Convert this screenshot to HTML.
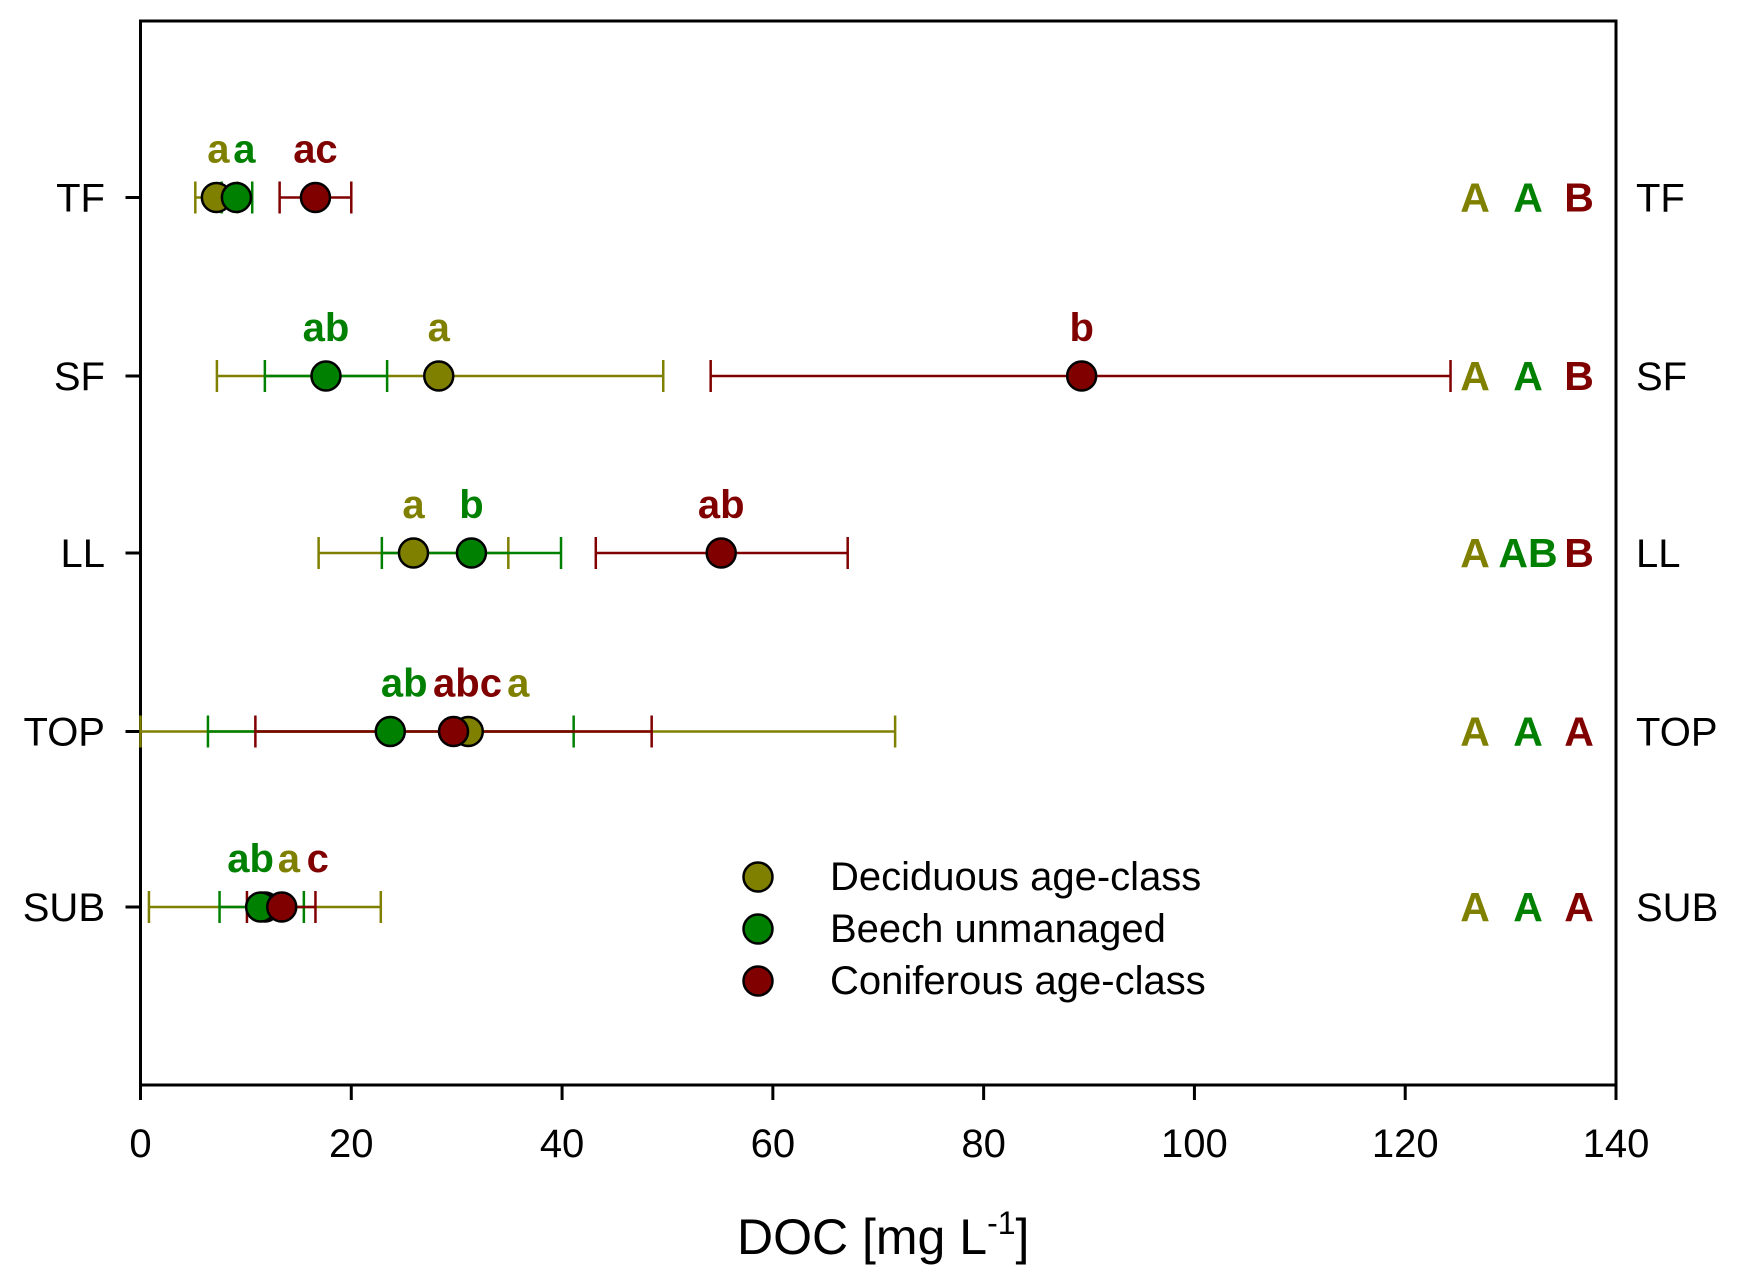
<!DOCTYPE html>
<html><head><meta charset="utf-8"><style>
html,body{margin:0;padding:0;background:#fff;}
svg{display:block;font-family:"Liberation Sans",Arial,sans-serif;}
</style></head><body>
<svg id="chart" width="1739" height="1283" viewBox="0 0 1739 1283" xmlns="http://www.w3.org/2000/svg"></svg>
<script>
const categories = ["TF","SF","LL","TOP","SUB"];
const series = ["Deciduous age-class","Beech unmanaged","Coniferous age-class"];
const decMean = [7.2, 28.3, 25.9, 31.1, 11.8];
const decLo   = [5.2, 7.25, 16.9, 0.0, 0.8];
const decHi   = [9.2, 49.6, 34.9, 71.6, 22.8];
const beechMean = [9.1, 17.6, 31.4, 23.7, 11.4];
const beechLo   = [7.7, 11.8, 22.9, 6.4, 7.5];
const beechHi   = [10.6, 23.4, 39.9, 41.1, 15.5];
const conMean = [16.6, 89.3, 55.1, 29.7, 13.4];
const conLo   = [13.2, 54.1, 43.2, 10.9, 10.1];
const conHi   = [20.0, 124.3, 67.1, 48.5, 16.6];
const xTicks = [0,20,40,60,80,100,120,140];
const lettersDec = ["a","a","a","a","a"];
const lettersBeech = ["a","ab","b","ab","ab"];
const lettersCon = ["ac","b","ab","abc","c"];
const capsDec = ["A","A","A","A","A"];
const capsBeech = ["A","A","AB","A","A"];
const capsCon = ["B","B","B","A","A"];

const NS="http://www.w3.org/2000/svg";
const svg=document.getElementById('chart');
const L=140.5,R=1616,T=21,B=1085;
const X=v=>L+(v/140)*(R-L);
const rowY=[197.5,376,553,731.5,907];
const Y=i=>rowY[i];
const colors=["#808000","#008000","#800000"];
function el(tag,attrs,parent){const e=document.createElementNS(NS,tag);for(const k in attrs)e.setAttribute(k,attrs[k]);(parent||svg).appendChild(e);return e;}
function txt(s,attrs,parent){const t=el('text',attrs,parent);t.textContent=s;return t;}

const frame=el('rect',{x:L,y:T,width:R-L,height:B-T,fill:'none',stroke:'#000','stroke-width':3});



xTicks.forEach(v=>{
  const g=el('g',{});
  
  
  el('line',{x1:X(v),x2:X(v),y1:B,y2:B+15,stroke:'#000','stroke-width':3},g);
  txt(String(v),{x:X(v),y:1157,'font-size':40,'text-anchor':'middle',fill:'#000'},g);
});
categories.forEach((c,i)=>{
  const g=el('g',{});
  
  
  el('line',{x1:L-15,x2:L,y1:Y(i),y2:Y(i),stroke:'#000','stroke-width':3},g);
  txt(c,{x:105,y:Y(i)+14,'font-size':40,'text-anchor':'end',fill:'#000'},g);
  const g2=el('g',{});
  
  
  txt(c,{x:1636,y:Y(i)+14,'font-size':40,fill:'#000'},g2);
});

const title=txt('',{x:737,y:1254,'font-size':50,fill:'#000'});


title.innerHTML='DOC [mg L<tspan dy="-20" font-size="32">-1</tspan><tspan dy="20">]</tspan>';

const sets=[[decMean,decLo,decHi],[beechMean,beechLo,beechHi],[conMean,conLo,conHi]];
const names=['deciduous','beech','coniferous'];
const order=[0,1,2];
order.forEach(s=>{
  const [m,lo,hi]=sets[s];
  categories.forEach((c,i)=>{
    const g=el('g',{});
    
    
    const y=Y(i);
    el('line',{x1:X(lo[i]),x2:X(hi[i]),y1:y,y2:y,stroke:colors[s],'stroke-width':2.5},g);
    el('line',{x1:X(lo[i]),x2:X(lo[i]),y1:y-16,y2:y+16,stroke:colors[s],'stroke-width':2.5},g);
    el('line',{x1:X(hi[i]),x2:X(hi[i]),y1:y-16,y2:y+16,stroke:colors[s],'stroke-width':2.5},g);
  });
});
order.forEach(s=>{
  const m=sets[s][0];
  categories.forEach((c,i)=>{
    const p=el('circle',{cx:X(m[i]),cy:Y(i),r:14.5,fill:colors[s],stroke:'#000','stroke-width':2.5});
    
    
  });
});

const letterSets=[lettersDec,lettersBeech,lettersCon];
order.forEach(s=>{
  const m=sets[s][0];
  categories.forEach((c,i)=>{
    let x=X(m[i]);
    const off={ '0-0':2,'1-0':8,'0-3':50,'1-3':14,'2-3':14,'0-4':24,'1-4':-10,'2-4':36};
    const k=s+'-'+i; if(off[k]!==undefined) x+=off[k];
    const t=txt(letterSets[s][i],{x:x,y:Y(i)-35,'font-size':40,'font-weight':'bold','text-anchor':'middle',fill:colors[s]});
    
    
  });
});

const capSets=[capsDec,capsBeech,capsCon];
const capX=[1475,1528,1579];
order.forEach(s=>{
  categories.forEach((c,i)=>{
    const t=txt(capSets[s][i],{x:capX[s],y:Y(i)+14,'font-size':41,'font-weight':'bold','text-anchor':'middle',fill:colors[s]});
    
    
  });
});

const lg=el('g',{});


const legY=[877,929,981];
series.forEach((n,s)=>{
  const g=el('g',{},lg);
  
  
  el('circle',{cx:758,cy:legY[s],r:14.5,fill:colors[s],stroke:'#000','stroke-width':2.5},g);
  txt(n,{x:830,y:legY[s]+13,'font-size':40,fill:'#000'},g);
});
</script>
</body></html>
